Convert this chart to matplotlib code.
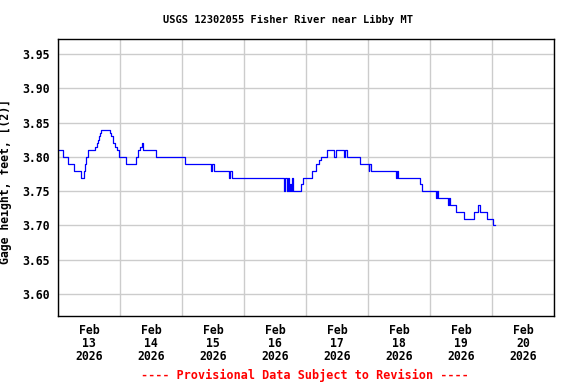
#!/usr/bin/env python3
"""
USGS gage height step chart, Fisher River near Libby MT
"""

import matplotlib
matplotlib.use('Agg')
import matplotlib.pyplot as plt
import matplotlib.dates as mdates
import pandas as pd

# Gage height readings (value holds until next timestamp)
times = [
    '2026-02-13 00:15', '2026-02-13 01:45', '2026-02-13 04:00', '2026-02-13 06:15',
    '2026-02-13 09:00', '2026-02-13 10:15', '2026-02-13 10:30', '2026-02-13 11:00',
    '2026-02-13 11:45', '2026-02-13 14:30', '2026-02-13 15:00', '2026-02-13 15:30',
    '2026-02-13 15:45', '2026-02-13 16:15', '2026-02-13 16:30', '2026-02-13 20:00',
    '2026-02-13 20:30', '2026-02-13 21:15', '2026-02-13 22:00', '2026-02-13 22:45',
    '2026-02-13 23:30', '2026-02-13 23:45',
    '2026-02-14 02:30', '2026-02-14 06:15', '2026-02-14 07:00', '2026-02-14 07:45',
    '2026-02-14 08:30', '2026-02-14 09:00', '2026-02-14 14:00',
    '2026-02-15 01:15', '2026-02-15 11:15', '2026-02-15 11:30', '2026-02-15 12:30',
    '2026-02-15 18:15', '2026-02-15 18:30', '2026-02-15 19:15',
    '2026-02-16 15:30', '2026-02-16 16:00', '2026-02-16 16:30', '2026-02-16 17:00',
    '2026-02-16 17:15', '2026-02-16 17:45', '2026-02-16 18:15', '2026-02-16 18:30',
    '2026-02-16 19:00', '2026-02-16 22:15', '2026-02-16 22:45',
    '2026-02-17 02:30', '2026-02-17 04:00', '2026-02-17 05:00', '2026-02-17 05:45',
    '2026-02-17 08:15', '2026-02-17 11:00', '2026-02-17 11:30', '2026-02-17 14:45',
    '2026-02-17 15:15', '2026-02-17 15:45', '2026-02-17 20:45',
    '2026-02-18 00:15', '2026-02-18 00:30', '2026-02-18 01:00', '2026-02-18 10:45',
    '2026-02-18 11:15', '2026-02-18 11:30', '2026-02-18 20:15', '2026-02-18 20:45',
    '2026-02-19 02:15', '2026-02-19 02:45', '2026-02-19 03:15', '2026-02-19 07:00',
    '2026-02-19 07:15', '2026-02-19 07:45', '2026-02-19 10:00', '2026-02-19 13:15',
    '2026-02-19 17:00', '2026-02-19 18:30', '2026-02-19 19:30', '2026-02-19 22:15',
    '2026-02-20 00:15', '2026-02-20 01:00',
]
gage_ft = [
    3.81, 3.80, 3.79, 3.78,
    3.77, 3.78, 3.79, 3.80,
    3.81, 3.815, 3.82, 3.825,
    3.83, 3.835, 3.84, 3.835,
    3.83, 3.82, 3.815, 3.81,
    3.805, 3.80,
    3.79, 3.80, 3.81, 3.815,
    3.82, 3.81, 3.80,
    3.79, 3.78, 3.79, 3.78,
    3.77, 3.78, 3.77,
    3.75, 3.77, 3.75, 3.77,
    3.75, 3.76, 3.75, 3.77,
    3.75, 3.76, 3.77,
    3.78, 3.79, 3.795, 3.80,
    3.81, 3.80, 3.81, 3.80,
    3.81, 3.80, 3.79,
    3.78, 3.79, 3.78, 3.77,
    3.78, 3.77, 3.76, 3.75,
    3.74, 3.75, 3.74, 3.73,
    3.74, 3.73, 3.72, 3.71,
    3.72, 3.73, 3.72, 3.71,
    3.70, 3.70,
]
y_ticks = [3.60, 3.65, 3.70, 3.75, 3.80, 3.85, 3.90, 3.95]

title = 'USGS 12302055 Fisher River near Libby MT'
y_label = 'Gage height, feet, [(2)]'
footer = '---- Provisional Data Subject to Revision ----'

FONT = 'DejaVu Sans Mono'
plt.rcParams['font.family'] = FONT
plt.rcParams['font.weight'] = 'bold'

t = pd.to_datetime(times)

fig = plt.figure(figsize=(5.76, 3.84), dpi=100)
ax = fig.add_axes([58 / 576, 1 - 316 / 384, 496 / 576, 277 / 384])

ax.plot(t, gage_ft, drawstyle='steps-post', color='#0000ff', linewidth=0.9)

ax.set_xlim(pd.Timestamp('2026-02-13'), pd.Timestamp('2026-02-21'))
ax.set_ylim(3.568, 3.972)
ax.set_yticks(y_ticks)
ax.yaxis.set_major_formatter(plt.FormatStrFormatter('%.2f'))

# day boundaries carry the grid, noon carries the labels
ax.xaxis.set_major_locator(mdates.DayLocator())
ax.xaxis.set_major_formatter(plt.NullFormatter())
ax.xaxis.set_minor_locator(mdates.HourLocator(byhour=12))
ax.xaxis.set_minor_formatter(mdates.DateFormatter('%b\n%d\n%Y'))

ax.grid(True, which='major', color='#cccccc', linewidth=1)
ax.set_axisbelow(True)
ax.tick_params(axis='both', which='both', length=0, labelsize=8.3)
ax.tick_params(axis='y', pad=6)
ax.tick_params(axis='x', which='minor', pad=6)
for lbl in ax.xaxis.get_minorticklabels():
    lbl.set_linespacing(1.0)

for sp in ax.spines.values():
    sp.set_color('black')
    sp.set_linewidth(1)

ax.set_ylabel(y_label, fontsize=8.3, fontweight='bold')
ax.yaxis.set_label_coords((12 - 58) / 496, (316 - 181) / 277)
fig.text(0.5, 1 - 20 / 384, title, ha='center', va='center',
         fontsize=7.5, fontweight='bold')
fig.text(305 / 576, 1 - 375 / 384, footer, ha='center', va='center',
         fontsize=8.5, fontweight='bold', color='#ff0000')

plt.savefig('out.png', dpi=100)
plt.close()
